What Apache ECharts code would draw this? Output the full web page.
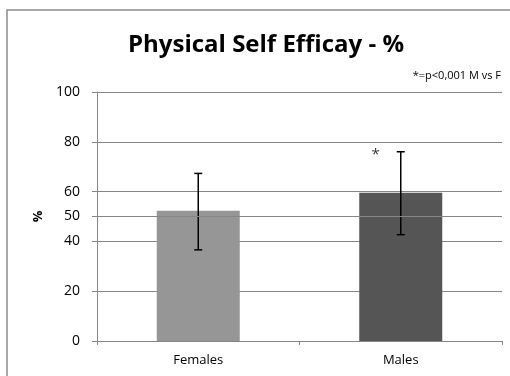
<!DOCTYPE html>
<html>
<head>
<meta charset="utf-8">
<script src="https://cdn.jsdelivr.net/npm/echarts@6/dist/echarts.min.js"></script>
<style>
html,body{margin:0;padding:0;background:#fff;}
#main{width:510px;height:376px;}
</style>
</head>
<body>
<div id="main"></div>
<script>
var categories = ['Females', 'Males'];
var means = [52.3, 59.5];
var errLow = [36.6, 42.7];
var errHigh = [67.3, 76.0];
var barColors = ['#969696', '#555555'];
var sigCategory = 'Males';
var sigValue = 76;
var titleText = 'Physical Self Efficay - %';
var noteText = '*=p<0,001 M vs F';

var FONT = 'Open Sans';
var chart = echarts.init(document.getElementById('main'), null, {renderer: 'canvas'});

var option = {
  animation: false,
  backgroundColor: '#fff',
  title: {
    text: titleText,
    left: 261, top: 28, textAlign: 'center',
    textStyle: {fontFamily: FONT, fontSize: 24, fontWeight: 'bold', color: '#000'}
  },
  graphic: [
    {type: 'rect', shape: {x: 7, y: 10, width: 520, height: 400}, style: {fill: 'none', stroke: '#8a8a8a', lineWidth: 1.5}, silent: true, z: -1},
    {type: 'text', right: 9, top: 70, style: {text: noteText, fontFamily: FONT, fontSize: 11, fill: '#000'}}
  ],
  grid: {left: 97, right: 8, top: 92, bottom: 35, containLabel: false},
  xAxis: {
    type: 'category', data: categories,
    axisLine: {lineStyle: {color: '#868686', width: 1}},
    axisTick: {show: true, length: 4, lineStyle: {color: '#868686'}},
    axisLabel: {margin: 13, fontFamily: FONT, fontSize: 13, color: '#000'}
  },
  yAxis: [
    {
      type: 'value', min: 0, max: 100, interval: 20,
      name: '%', nameLocation: 'middle', nameGap: 52, nameRotate: 90,
      nameTextStyle: {fontFamily: FONT, fontSize: 13, fontWeight: 'bold', color: '#000'},
      axisLine: {show: true, lineStyle: {color: '#868686'}},
      axisTick: {show: true, length: 5, lineStyle: {color: '#868686'}},
      axisLabel: {margin: 17, fontFamily: FONT, fontSize: 14, color: '#000'},
      splitLine: {show: true, lineStyle: {color: '#868686', width: 1}}
    },
    {
      type: 'value', min: 0, max: 100, interval: 50, position: 'left', z: 10,
      axisLine: {show: false},
      axisTick: {show: true, length: 5, lineStyle: {color: '#868686'}},
      axisLabel: {margin: 17, fontFamily: FONT, fontSize: 14, color: '#000',
        formatter: function (v) { return v === 50 ? '50' : ''; }},
      splitLine: {show: true, lineStyle: {color: '#868686', width: 1}}
    }
  ],
  series: [
    {
      type: 'bar', barWidth: 83,
      data: means.map(function (v, i) { return {value: v, itemStyle: {color: barColors[i]}}; })
    },
    {
      type: 'custom', z: 5,
      data: categories.map(function (c, i) { return [i, errLow[i], errHigh[i]]; }),
      renderItem: function (params, api) {
        var lo = api.coord([api.value(0), api.value(1)]);
        var hi = api.coord([api.value(0), api.value(2)]);
        var x = lo[0], w = 4;
        var st = {stroke: '#000', lineWidth: 1.5};
        return {type: 'group', children: [
          {type: 'line', shape: {x1: x, y1: lo[1], x2: x, y2: hi[1]}, style: st},
          {type: 'line', shape: {x1: x - w, y1: lo[1], x2: x + w, y2: lo[1]}, style: st},
          {type: 'line', shape: {x1: x - w, y1: hi[1], x2: x + w, y2: hi[1]}, style: st}
        ]};
      }
    },
    {
      type: 'scatter', symbolSize: 0, z: 6,
      data: [[sigCategory, sigValue]],
      label: {show: true, formatter: '*', position: 'inside', offset: [-25, 3],
        fontFamily: FONT, fontSize: 15, color: '#000'}
    }
  ]
};
chart.setOption(option);
</script>
</body>
</html>
